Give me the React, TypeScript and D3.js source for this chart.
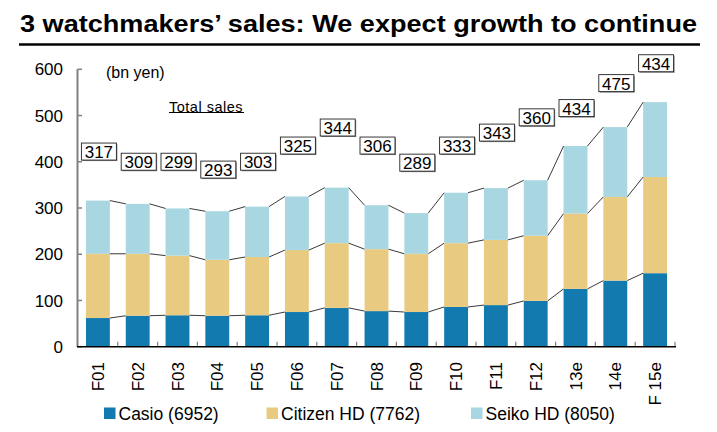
import React from "react";
import * as d3 from "d3";

const categories = ["F01","F02","F03","F04","F05","F06","F07","F08","F09","F10","F11","F12","13e","14e","F 15e"];
const casio = [62,67,68,67,68,75,84,77,75,86,90,99,125,143,159];
const citizen = [139,134,129,121,126,134,140,134,126,138,141,141,163,181,208];
const seiko = [115,108,102,105,109,116,120,95,88,109,112,120,146,151,162];
const totalLabels = ["317","309","299","293","303","325","344","306","289","333","343","360","434","475","434"];
const labelAnchor = [421,399,399,382,399,434,473,434,397,434,462,495,515,569,612];
const yTicks = [0,100,200,300,400,500,600];
const seriesNames = ["Casio (6952)","Citizen HD (7762)","Seiko HD (8050)"];
const colors = ["#137ab0","#e8cb80","#a8d6e1"];

export default function App() {
  const W = 717, H = 432;
  const x = d3.scaleBand<string>().domain(categories).range([78, 675]).paddingInner(0.4).paddingOuter(0.2);
  const y = d3.scaleLinear().domain([0, 600]).range([346.7, 69.3]);
  const rows = categories.map((c, i) => ({ cat: c, casio: casio[i], citizen: citizen[i], seiko: seiko[i] }));
  const stack = d3.stack<any>().keys(["casio","citizen","seiko"])(rows);
  const bw = x.bandwidth();
  const step = x.step();
  const font = "'Liberation Sans', Arial, sans-serif";

  return (
    <svg width={W} height={H} style={{ position: "absolute", left: 0, top: 0, background: "#fff" }} fontFamily={font}>
      <text x={20} y={32} fontSize={23.5} fontWeight="bold" fill="#000" textLength={677} lengthAdjust="spacingAndGlyphs">3 watchmakers’ sales: We expect growth to continue</text>
      <line x1={19} x2={700} y1={44.5} y2={44.5} stroke="#000" strokeWidth={2.4} />

      {stack.map((layer, li) => (
        <g key={li}>
          {layer.map((d, i) => (
            <rect key={i} x={x(categories[i])!} width={bw} y={y(d[1])} height={y(d[0]) - y(d[1])} fill={colors[li]} />
          ))}
          {layer.slice(0, -1).map((d, i) => (
            <line key={"c" + i} x1={x(categories[i])! + bw} y1={y(d[1])} x2={x(categories[i + 1])!} y2={y(layer[i + 1][1])} stroke="#222" strokeWidth={0.9} />
          ))}
        </g>
      ))}

      {/* y axis */}
      <line x1={77.5} x2={77.5} y1={y(600)} y2={y(0)} stroke="#808080" strokeWidth={2} />
      {yTicks.map(t => (
        <g key={t}>
          <line x1={77.5} x2={82} y1={y(t)} y2={y(t)} stroke="#808080" strokeWidth={1.5} />
          <text x={63} y={y(t)} dy="0.36em" textAnchor="end" fontSize={17} fill="#000">{t}</text>
        </g>
      ))}
      {/* x axis */}
      {categories.map((c, i) => (
        <line key={"t" + i} x1={78 + (i + 1) * step} x2={78 + (i + 1) * step} y1={y(0)} y2={y(0) - 5} stroke="#808080" strokeWidth={1.2} />
      ))}
      <line x1={77} x2={676} y1={y(0)} y2={y(0)} stroke="#000" strokeWidth={1.5} />
      {categories.map(c => {
        const cx = x(c)! + bw / 2;
        return (
          <text key={c} transform={`translate(${cx},${362}) rotate(-90)`} textAnchor="end" dy="0.36em" fontSize={17} fill="#000">{c}</text>
        );
      })}

      <text x={106} y={72} dy="0.36em" fontSize={16} fill="#000">(bn yen)</text>
      <text x={169} y={107} dy="0.36em" fontSize={14.5} fill="#000" letterSpacing={0.5}>Total sales</text>
      <line x1={169} x2={244} y1={112.5} y2={112.5} stroke="#000" strokeWidth={1} />

      {totalLabels.map((l, i) => {
        const cx = x(categories[i])! + bw / 2 + 1.5;
        const cy = y(labelAnchor[i]);
        return (
          <g key={"l" + i}>
            <rect x={cx - 17} y={cy - 8} width={35} height={17} fill="#888" />
            <rect x={cx - 18} y={cy - 9} width={35} height={17} fill="#fff" stroke="#222" strokeWidth={0.9} />
            <text x={cx - 0.5} y={cy} dy="0.36em" textAnchor="middle" fontSize={17} fill="#000">{l}</text>
          </g>
        );
      })}

      {seriesNames.map((s, i) => {
        const lx = [104, 266.5, 471][i];
        return (
          <g key={s}>
            <rect x={lx} y={407.5} width={11.5} height={11.5} fill={colors[i]} />
            <text x={lx + 14.5} y={413.5} dy="0.36em" fontSize={17.5} fill="#000">{s}</text>
          </g>
        );
      })}
    </svg>
  );
}
